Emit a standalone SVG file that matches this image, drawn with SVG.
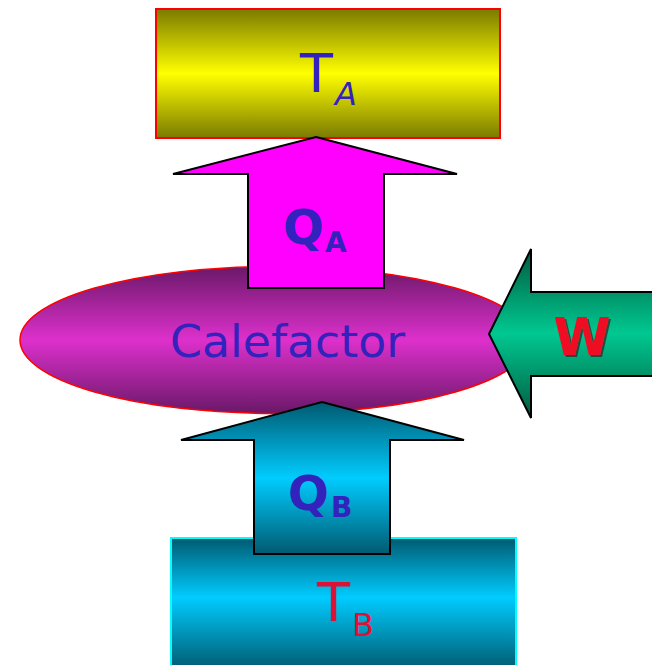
<svg xmlns="http://www.w3.org/2000/svg" width="652" height="665" viewBox="0 0 652 665">
<defs>
<linearGradient id="gYel" x1="0" y1="0" x2="0" y2="1"><stop offset="0" stop-color="#7a7a00"/><stop offset="0.5" stop-color="#ffff00"/><stop offset="1" stop-color="#7a7a00"/></linearGradient>
<linearGradient id="gPur" x1="0" y1="0" x2="0" y2="1"><stop offset="0" stop-color="#6a1868"/><stop offset="0.5" stop-color="#dd30cc"/><stop offset="1" stop-color="#6a1868"/></linearGradient>
<linearGradient id="gCyan" x1="0" y1="0" x2="0" y2="1"><stop offset="0" stop-color="#005a70"/><stop offset="0.5" stop-color="#00ccff"/><stop offset="1" stop-color="#005a70"/></linearGradient>
<linearGradient id="gCyanB" x1="0" y1="0" x2="0" y2="1"><stop offset="0" stop-color="#005a70"/><stop offset="0.45" stop-color="#00ccff"/><stop offset="1" stop-color="#005a70"/></linearGradient>
<linearGradient id="gGreen" x1="0" y1="0" x2="0" y2="1"><stop offset="0" stop-color="#005a40"/><stop offset="0.5" stop-color="#00c890"/><stop offset="1" stop-color="#005a40"/></linearGradient>
<filter id="shadow" x="-20%" y="-20%" width="150%" height="150%"><feDropShadow dx="2" dy="2" stdDeviation="0.5" flood-color="#333" flood-opacity="0.8"/></filter>
</defs>
<style>
.lbl{font-family:"DejaVu Sans","Liberation Sans",sans-serif;fill:#3322bb}
.big{font-family:"DejaVu Sans","Liberation Sans",sans-serif;font-weight:bold;fill:#3322bb}
.arrow{stroke:#000;stroke-width:2;stroke-linejoin:miter}
</style>
<g id="TA">
<rect x="156" y="9" width="344" height="129" fill="url(#gYel)" stroke="#ff0000" stroke-width="2"/>
<text class="lbl" x="300" y="92" font-size="54">T</text>
<text class="lbl" x="335" y="105" font-size="32" font-style="italic">A</text>
</g>
<g id="Calefactor">
<ellipse cx="275" cy="340" rx="255" ry="73.5" fill="url(#gPur)" stroke="#ff0000" stroke-width="1.5"/>
<text class="lbl" x="170" y="357" font-size="44" textLength="235" lengthAdjust="spacingAndGlyphs">Calefactor</text>
</g>
<g id="TB">
<rect x="171" y="538" width="345" height="132" fill="url(#gCyanB)" stroke="#00ffff" stroke-width="2"/>
<text x="317" y="621" font-size="54" font-family="DejaVu Sans,Liberation Sans,sans-serif" fill="#dd1133">T</text>
<text x="352" y="636" font-size="32" font-family="DejaVu Sans,Liberation Sans,sans-serif" fill="#dd1133">B</text>
</g>
<g id="connectors">
<g id="QA">
<polygon class="arrow" points="316,137 457,174 384,174 384,288 248,288 248,174 173,174" fill="#ff00ff"/>
<text class="big" x="283" y="244" font-size="48">Q</text>
<text class="big" x="325" y="252" font-size="28">A</text>
</g>
<g id="QB">
<polygon class="arrow" points="322,402 464,440 390,440 390,554 254,554 254,440 181,440" fill="url(#gCyan)"/>
<text class="big" x="288" y="510" font-size="48">Q</text>
<text class="big" x="331" y="517" font-size="28">B</text>
</g>
<g id="W">
<polygon class="arrow" points="489,334 531,249 531,292 654,292 654,376 531,376 531,418" fill="url(#gGreen)"/>
<text x="582" y="355" font-size="52" font-weight="bold" text-anchor="middle" font-family="DejaVu Sans,Liberation Sans,sans-serif" fill="#ee1122" filter="url(#shadow)">W</text>
</g>
</g>
</svg>
